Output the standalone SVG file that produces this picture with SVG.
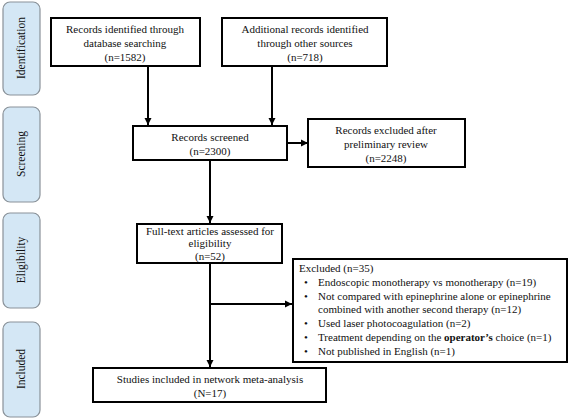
<svg xmlns="http://www.w3.org/2000/svg" width="568" height="420" viewBox="0 0 568 420">
<defs>
<style>
.stage rect{fill:#d4e7f5;stroke:#8a9299;stroke-width:1.2}
.stage text{font-family:"Liberation Serif","Times New Roman",serif;font-size:11.5px;fill:#111;text-anchor:middle}
.box rect{fill:#fff;stroke:#000;stroke-width:2}
.box text{font-family:"Liberation Serif","Times New Roman",serif;font-size:11px;fill:#111;text-anchor:middle}
.ex text{text-anchor:start}
.conn line,.conn polyline{stroke:#000;stroke-width:2;fill:none}
</style>
<marker id="ah" markerWidth="8" markerHeight="8" refX="7" refY="4" orient="auto" markerUnits="userSpaceOnUse">
<path d="M0,0.5 L7,4 L0,7.5 Z" fill="#000"/>
</marker>
</defs>
<rect width="568" height="420" fill="#fff"/>
<g id="stage-identification" class="stage"><rect x="3" y="2" width="37" height="93" rx="7"/><text transform="translate(25,48) rotate(-90)">Identification</text></g>
<g id="stage-screening" class="stage"><rect x="3" y="107" width="37" height="95" rx="7"/><text transform="translate(25,154) rotate(-90)">Screening</text></g>
<g id="stage-eligibility" class="stage"><rect x="3" y="213" width="37" height="95" rx="7"/><text transform="translate(25,260) rotate(-90)">Eligibility</text></g>
<g id="stage-included" class="stage"><rect x="3" y="322" width="37" height="95" rx="7"/><text transform="translate(25,369) rotate(-90)">Included</text></g>

<g id="conns" class="conn">
<line x1="148" y1="66" x2="148" y2="125" marker-end="url(#ah)"/>
<line x1="272" y1="66" x2="272" y2="125" marker-end="url(#ah)"/>
<line x1="287" y1="143" x2="308" y2="143" marker-end="url(#ah)"/>
<line x1="210" y1="160" x2="210" y2="223" marker-end="url(#ah)"/>
<line x1="210" y1="263" x2="210" y2="367" marker-end="url(#ah)"/>
<line x1="210" y1="304" x2="292" y2="304" marker-end="url(#ah)"/>
</g>

<g id="n-database" class="box"><rect x="51" y="18" width="149" height="48"/><text x="125" y="33">Records identified through</text><text x="125" y="47">database searching</text><text x="125" y="61">(n=1582)</text></g>
<g id="n-other" class="box"><rect x="222" y="18" width="165" height="48"/><text x="305" y="33">Additional records identified</text><text x="305" y="47">through other sources</text><text x="305" y="61">(n=718)</text></g>
<g id="n-screened" class="box"><rect x="133" y="126" width="154" height="34"/><text x="210" y="141">Records screened</text><text x="210" y="155">(n=2300)</text></g>
<g id="n-excluded1" class="box"><rect x="308" y="119" width="157" height="48"/><text x="386" y="134">Records excluded after</text><text x="386" y="148">preliminary review</text><text x="386" y="162">(n=2248)</text></g>
<g id="n-fulltext" class="box"><rect x="137" y="224" width="145" height="39"/><text x="210" y="235">Full-text articles assessed for</text><text x="210" y="247">eligibility</text><text x="210" y="260">(n=52)</text></g>
<g id="n-excluded2" class="box ex"><rect x="293" y="259" width="274" height="103"/>
<text x="299" y="272">Excluded (n=35)</text>
<text x="304" y="286">•</text><text x="318" y="286">Endoscopic monotherapy vs monotherapy (n=19)</text>
<text x="304" y="300">•</text><text x="318" y="300">Not compared with epinephrine alone or epinephrine</text>
<text x="318" y="313">combined with another second therapy (n=12)</text>
<text x="304" y="327">•</text><text x="318" y="327">Used laser photocoagulation (n=2)</text>
<text x="304" y="341">•</text><text x="318" y="341">Treatment depending on the <tspan font-weight="bold">operator’s</tspan> choice (n=1)</text>
<text x="304" y="355">•</text><text x="318" y="355">Not published in English (n=1)</text>
</g>
<g id="n-included" class="box"><rect x="93" y="368" width="233" height="34"/><text x="210" y="383">Studies included in network meta-analysis</text><text x="210" y="397">(N=17)</text></g>
</svg>
